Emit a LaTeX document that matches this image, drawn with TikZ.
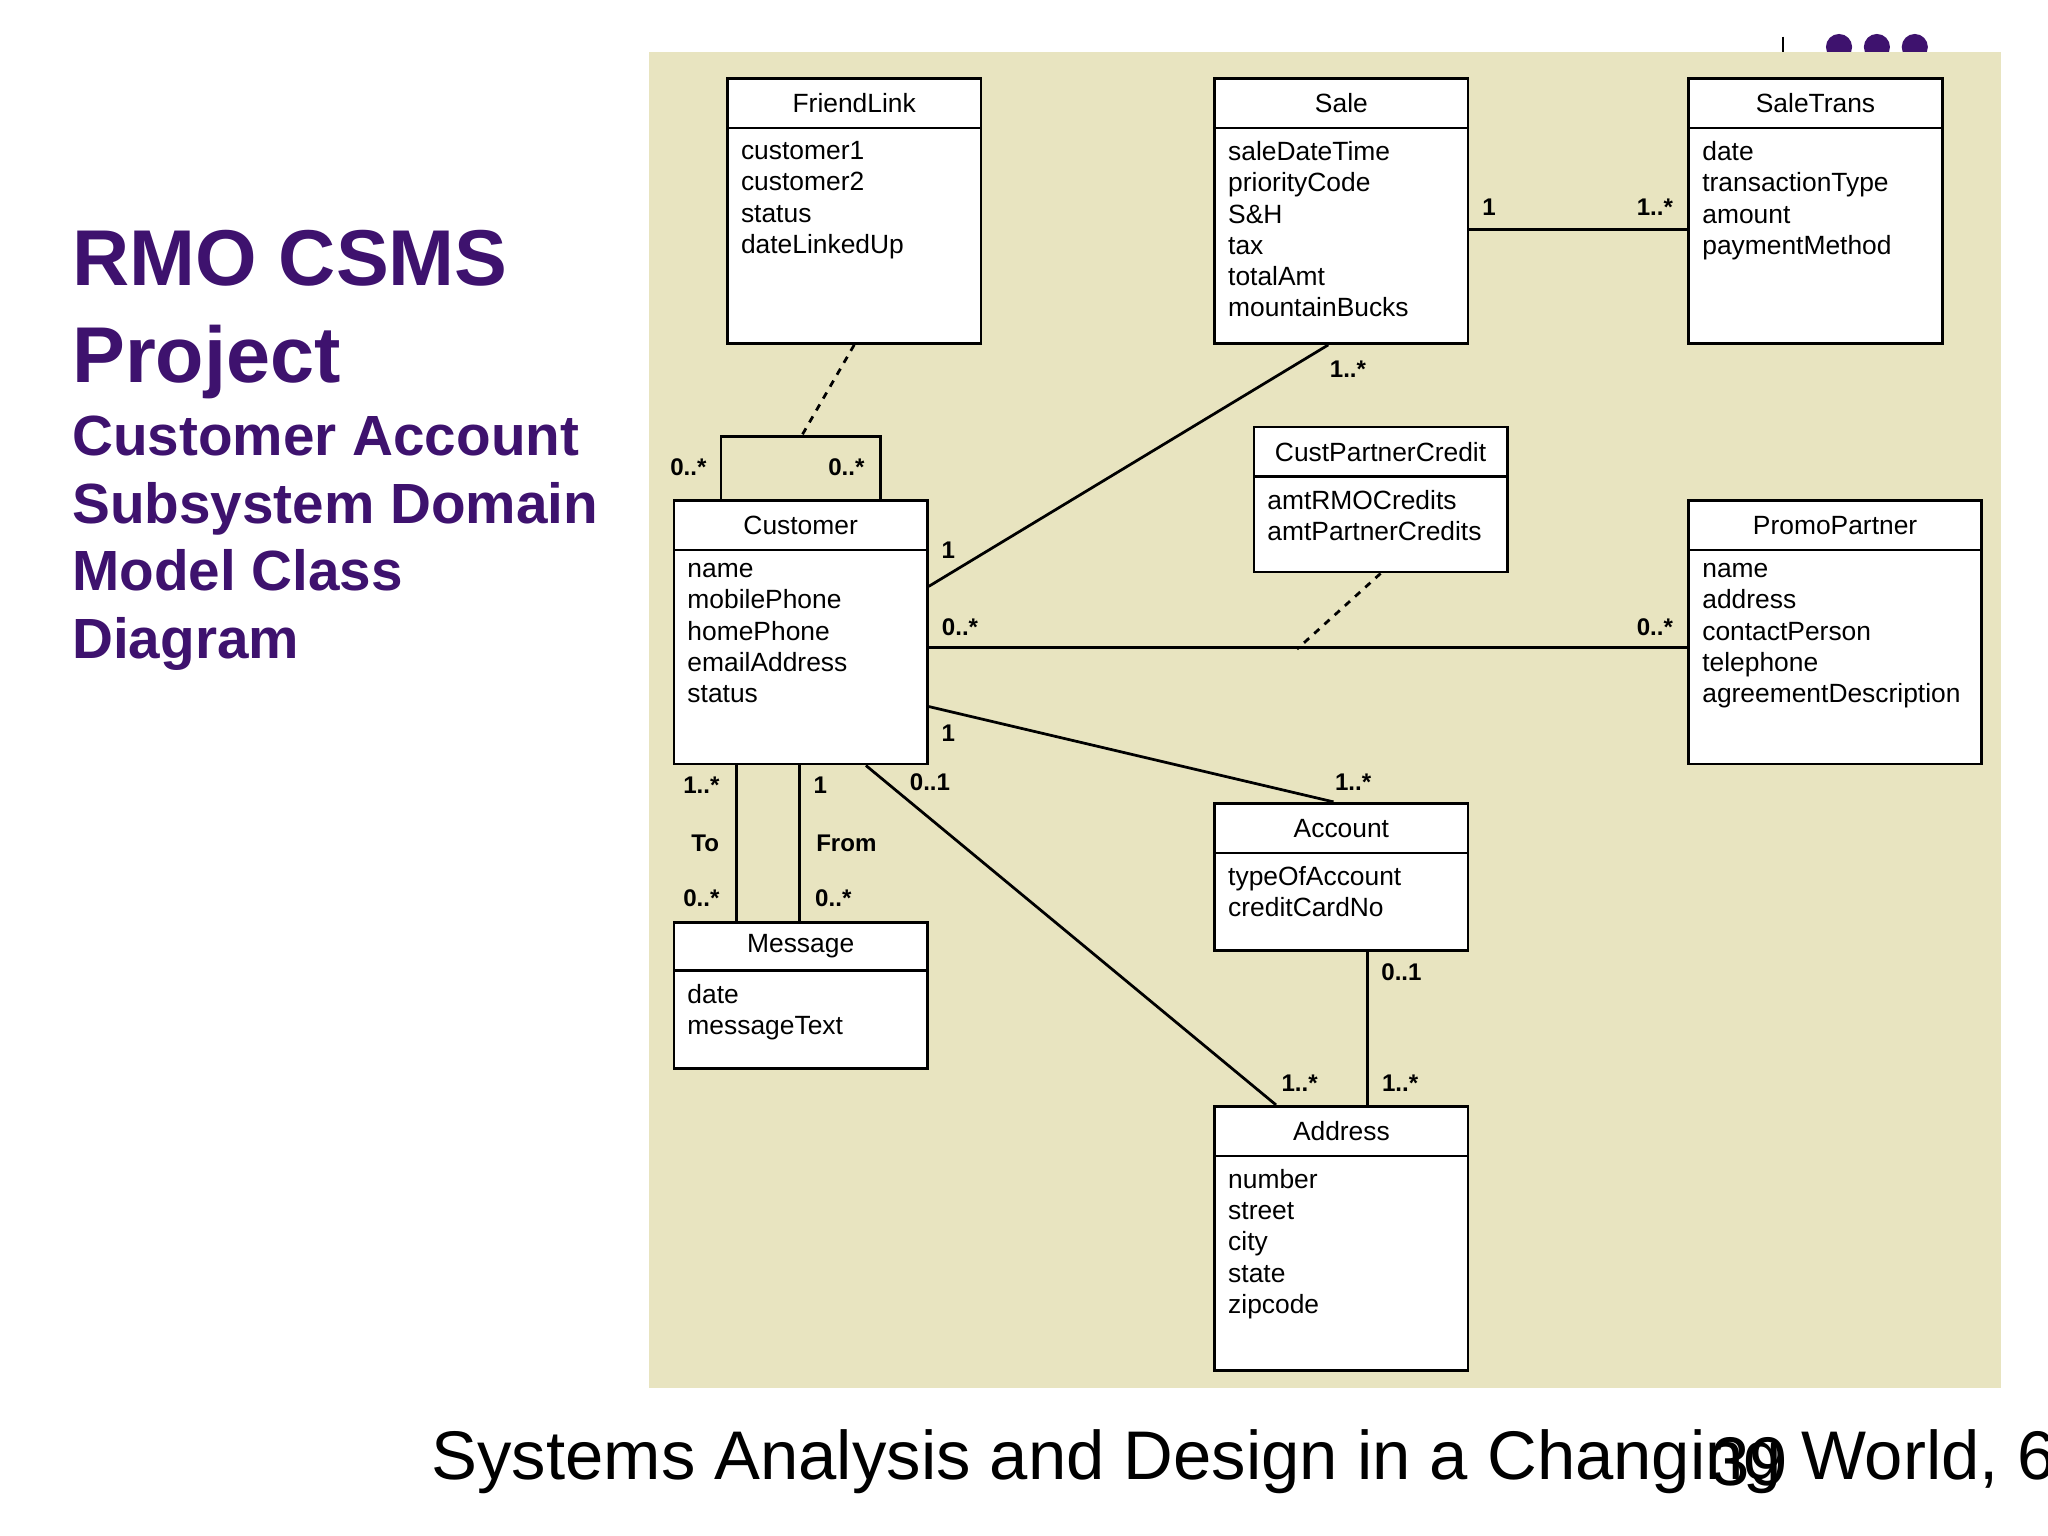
\documentclass[tikz,border=0pt]{standalone}
\usepackage{fontspec}
\setmainfont{Liberation Sans}
\usetikzlibrary{fit,calc}
\definecolor{bgc}{RGB}{232,228,192}
\definecolor{pur}{RGB}{62,18,110}
\tikzset{
  box/.style={draw,line width=1.2pt,fill=white,inner sep=0pt},
  ttl/.style={font=\fontsize{11.5}{13.6}\selectfont},
  attr/.style={font=\fontsize{11.5}{13.6}\selectfont,anchor=north west,inner sep=0pt,align=left},
  lab/.style={font=\bfseries\fontsize{10.5}{12}\selectfont,inner sep=0pt},
  assoc/.style={line width=1.2pt},
  dep/.style={line width=1.2pt,dash pattern=on 3pt off 3pt},
}
\newcommand{\umlbox}[8]{%
  \path (#2,#3) coordinate (#1-nw) (#4,#5) coordinate (#1-se);
  \node[box,fit=(#1-nw)(#1-se)] (#1) {};
  \draw[line width=1.2pt] (#2,#6) -- (#4,#6);
  \node[ttl] (#1-t) at ({(#2+#4)/2},{(#3+#6)/2}) {#7};
  \node[attr] (#1-a) at (#2+10,#6+10) {#8};
}
\begin{document}
\begin{tikzpicture}[x=0.02cm,y=-0.02cm]
\useasboundingbox (0,0) rectangle (1568,1176);
\fill[white] (0,0) rectangle (1568,1176);
% top right ornaments
\draw[line width=1pt] (1365,28) -- (1365,40);
\foreach \cx in {1408,1437,1466} \fill[pur] (\cx,36) circle (10);
\fill[bgc] (497,40) rectangle (1532,1063);
% title
\node[anchor=north west,inner sep=0pt,align=left,text=pur,font=\bfseries\fontsize{34.5}{42}\selectfont] (t1) at (55,176) {RMO CSMS\\Project};
\node[anchor=north west,inner sep=0pt,align=left,text=pur,font=\bfseries\fontsize{24.7}{29.5}\selectfont] (t2) at (55,318) {Customer Account\\Subsystem Domain\\Model Class\\Diagram};
% boxes
\umlbox{fl}{557}{60}{751}{263}{98}{FriendLink}{customer1\\customer2\\status\\dateLinkedUp}
\umlbox{sale}{930}{60}{1124}{263}{98}{Sale}{saleDateTime\\priorityCode\\S\&H\\tax\\totalAmt\\mountainBucks}
\umlbox{st}{1293}{60}{1487}{263}{98}{SaleTrans}{date\\transactionType\\amount\\paymentMethod}
\umlbox{cust}{516}{383}{710}{585}{421}{Customer}{name\\mobilePhone\\homePhone\\emailAddress\\status}
\umlbox{cpc}{960}{327}{1154}{438}{365}{CustPartnerCredit}{amtRMOCredits\\amtPartnerCredits}
\umlbox{pp}{1293}{383}{1517}{585}{421}{PromoPartner}{name\\address\\contactPerson\\telephone\\agreementDescription}
\umlbox{acc}{930}{615}{1124}{728}{653}{Account}{typeOfAccount\\creditCardNo}
\umlbox{msg}{516}{706}{710}{818}{743}{Message}{date\\messageText}
\umlbox{addr}{930}{847}{1124}{1049}{885}{Address}{number\\street\\city\\state\\zipcode}
% self association on Customer
\coordinate (loopL) at ($(cust.north west)+(37,-48)$);
\coordinate (loopR) at ($(cust.north west)+(159,-48)$);
\coordinate (loopM) at (613,335);
\draw[assoc] ($(cust.north west)+(37,0)$) -- (loopL) -- (loopR) -- ($(cust.north west)+(159,0)$);
\draw[dep] (fl.south) -- (loopM);
\node[lab] at (527,358) {0..*};
\node[lab] at (648,358) {0..*};
% Sale - Customer
\draw[assoc] ($(sale.south west)+(88,0)$) -- ($(cust.north east)+(0,67)$);
\node[lab] at (1032,283) {1..*};
\node[lab] at (726,421) {1};
% Sale - SaleTrans
\draw[assoc] ($(sale.north east)+(0,117)$) -- ($(st.north west)+(0,117)$);
\node[lab] at (1140,159) {1};
\node[lab] at (1267,159) {1..*};
% Customer - PromoPartner
\draw[assoc] ($(cust.north east)+(0,114)$) -- ($(pp.north west)+(0,114)$);
\coordinate (cpMid) at (993,497);
\draw[dep] (cpc.south) -- (cpMid);
\node[lab] at (735,480) {0..*};
\node[lab] at (1267,480) {0..*};
% Customer - Account
\draw[assoc] ($(cust.north east)+(0,159)$) -- ($(acc.north west)+(92,0)$);
\node[lab] at (726,561) {1};
\node[lab] at (1036,599) {1..*};
% Customer - Address
\draw[assoc] ($(cust.south west)+(148,0)$) -- ($(addr.north west)+(48,0)$);
\node[lab] at (712,599) {0..1};
\node[lab] at (995,829) {1..*};
% Account - Address
\draw[assoc] ($(acc.south west)+(118,0)$) -- ($(addr.north west)+(118,0)$);
\node[lab] at (1073,744) {0..1};
\node[lab] at (1072,829) {1..*};
% Customer - Message
\draw[assoc] ($(cust.south west)+(49,0)$) -- ($(msg.north west)+(49,0)$);
\draw[assoc] ($(cust.south west)+(97,0)$) -- ($(msg.north west)+(97,0)$);
\node[lab] at (537,601) {1..*};
\node[lab] at (540,646) {To};
\node[lab] at (537,688) {0..*};
\node[lab] at (628,601) {1};
\node[lab] at (648,646) {From};
\node[lab] at (638,688) {0..*};
% footer
\node[anchor=west,inner sep=0pt,font=\fontsize{30}{36}\selectfont] (foot) at (330,1119) {Systems Analysis and Design in a Changing World, 6th};
\node[anchor=west,inner sep=0pt,font=\fontsize{30}{36}\selectfont] (pg) at (1310,1119) {39};
\end{tikzpicture}
\end{document}
